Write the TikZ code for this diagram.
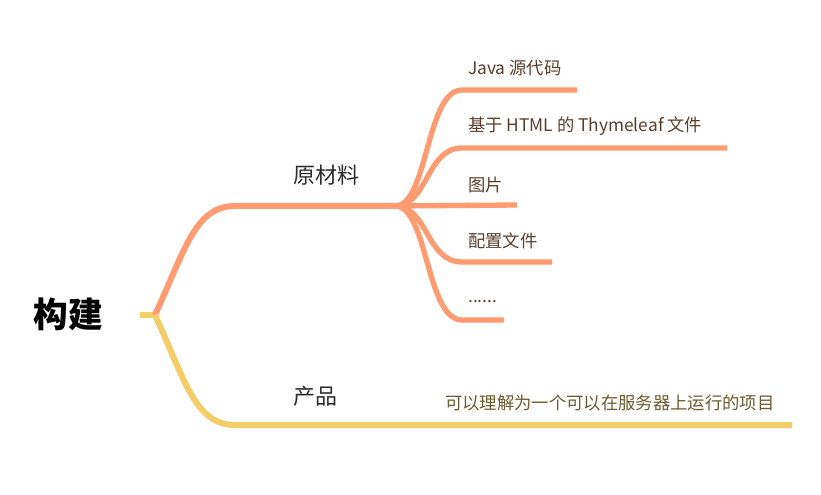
\documentclass[tikz,border=0pt]{standalone}
\usepackage{fontspec}
\setmainfont{Noto Sans CJK SC}
\definecolor{orangeC}{HTML}{FF9B71}
\definecolor{yellowC}{HTML}{F5CD68}
\definecolor{leafC}{HTML}{5A3D2B}
\definecolor{leafY}{HTML}{6B5A2E}
\definecolor{midC}{HTML}{2B2B2B}
\begin{document}
\begin{tikzpicture}[x=0.75pt,y=-0.75pt,
  mainline/.style={line width=4.5pt, line join=round},
  subline/.style={line width=4pt, draw=orangeC, line join=round},
  rootlabel/.style={inner sep=0pt, font=\fontsize{26}{28}\selectfont\bfseries, text=black},
  midlabel/.style={anchor=west, inner sep=0pt, font=\fontsize{16.5}{18}\selectfont, text=midC},
  leaf/.style={anchor=west, inner sep=0pt, font=\fontsize{13}{15}\selectfont, text=leafC},
  leafy/.style={anchor=west, inner sep=0pt, font=\fontsize{13}{15}\selectfont, text=leafY}]
\useasboundingbox (0,0) rectangle (821,495);
% root
\node[rootlabel] (root) at (68,314) {构建};
\coordinate (rs) at (140,315);
\coordinate (r) at (155,315);
\draw[mainline, draw=yellowC] (rs) -- (r);
% 原材料 branch
\coordinate (m1) at (235,206);
\coordinate (hub) at (395,206);
\draw[mainline, draw=orangeC] (r) .. controls (185,250) and (195,206) .. (m1) -- (hub);
\node[midlabel] (raw) at (293,175) {原材料};
% 产品 branch
\coordinate (m2) at (235,425);
\coordinate (m2e) at (792,425);
\draw[mainline, draw=yellowC] (r) .. controls (185,380) and (195,425) .. (m2) -- (m2e);
\node[midlabel] (prod) at (293,396) {产品};
\node[leafy] (desc) at (445,403) {可以理解为一个可以在服务器上运行的项目};
% children
\coordinate (c1) at (462,90);  \coordinate (e1) at (577,90);
\coordinate (c2) at (462,148); \coordinate (e2) at (727,148);
\coordinate (e3) at (517,205);
\coordinate (c4) at (462,262); \coordinate (e4) at (552,262);
\coordinate (c5) at (462,320); \coordinate (e5) at (504,320);
\draw[subline] (hub) .. controls (428,206) and (426,90) .. (c1) -- (e1);
\draw[subline] (hub) .. controls (428,206) and (426,148) .. (c2) -- (e2);
\draw[subline] (hub) -- (e3);
\draw[subline] (hub) .. controls (428,206) and (426,262) .. (c4) -- (e4);
\draw[subline] (hub) .. controls (428,206) and (426,320) .. (c5) -- (e5);
\node[leaf] (l1) at (468,68) {Java 源代码};
\node[leaf] (l2) at (468,126) {基于 HTML 的 Thymeleaf 文件};
\node[leaf] (l3) at (468,185) {图片};
\node[leaf] (l4) at (468,241) {配置文件};
\node[leaf] (l5) at (468,302) {......};
\end{tikzpicture}
\end{document}
